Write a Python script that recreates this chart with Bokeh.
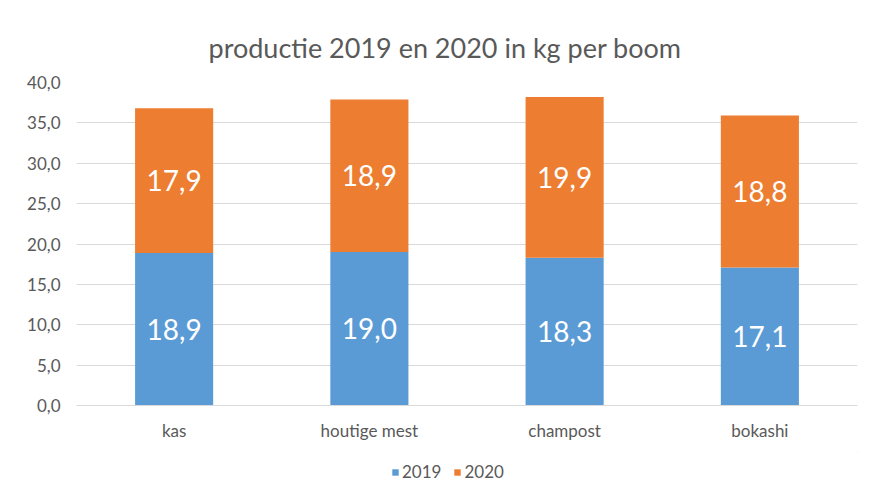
from bokeh.plotting import figure
from bokeh.layouts import column
from bokeh.models import ColumnDataSource, CustomJSTickFormatter, Legend, LegendItem, FixedTicker, LabelSet
from bokeh.core.properties import value
from bokeh.embed import file_html
from bokeh.resources import INLINE

categories = ["kas", "houtige mest", "champost", "bokashi"]
years = ["2019", "2020"]
v2019 = [18.9, 19.0, 18.3, 17.1]
v2020 = [17.9, 18.9, 19.9, 18.8]
colors = ["#5B9BD5", "#ED7D31"]
title_text = "productie 2019 en 2020 in kg per boom"

FONT = "Lato"
GRAY = "#595959"

fmt = lambda v: f"{v:.1f}".replace(".", ",")
src = ColumnDataSource(dict(
    cat=categories,
    y2019=v2019,
    y2020=v2020,
    mid2019=[v / 2 for v in v2019],
    mid2020=[a + b / 2 for a, b in zip(v2019, v2020)],
    lab2019=[fmt(v) for v in v2019],
    lab2020=[fmt(v) for v in v2020],
))

p = figure(x_range=categories, y_range=(0, 40), width=868, height=451,
           output_backend="svg", toolbar_location=None,
           min_border_left=76, min_border_right=11, min_border_top=82, min_border_bottom=46)

r = p.vbar_stack(["y2019", "y2020"], x="cat", width=0.4, color=colors, source=src, line_width=0)

for mid, lab in (("mid2019", "lab2019"), ("mid2020", "lab2020")):
    p.add_layout(LabelSet(x="cat", y=mid, text=lab, source=src, text_color="white",
                          text_font=value(FONT), text_font_size="28px", text_align="center",
                          text_baseline="middle"))

p.title.text = title_text
p.title.text_font = FONT
p.title.text_font_size = "27px"
p.title.text_font_style = "normal"
p.title.text_color = GRAY
p.title.align = "left"
p.title.offset = 132
p.title.standoff = 37

p.yaxis.ticker = FixedTicker(ticks=[0, 5, 10, 15, 20, 25, 30, 35, 40])
p.yaxis.formatter = CustomJSTickFormatter(code="return tick.toFixed(1).replace('.', ',');")
for ax in (p.xaxis, p.yaxis):
    ax.major_label_text_font = FONT
    ax.major_label_text_font_size = "17px"
    ax.major_label_text_color = GRAY
    ax.major_tick_line_color = None
    ax.minor_tick_line_color = None
p.yaxis.axis_line_color = None
p.yaxis.major_label_standoff = 10
p.xaxis.axis_line_color = "#d9d9d9"
p.xaxis.major_label_standoff = 8

p.xgrid.grid_line_color = None
p.ygrid.grid_line_color = "#d9d9d9"
p.outline_line_color = None
p.x_range.range_padding = 0
p.border_fill_color = "white"

# legend strip below the chart
pl = figure(width=868, height=44, x_range=(0, 1), y_range=(0, 1),
            output_backend="svg", toolbar_location=None,
            min_border_left=0, min_border_right=0, min_border_top=0, min_border_bottom=0)
pl.axis.visible = False
pl.grid.grid_line_color = None
pl.outline_line_color = None
leg_renderers = [pl.vbar(x=[5], top=[5], bottom=[4], width=0.1, color=c, line_width=0) for c in colors]
legend = Legend(items=[LegendItem(label=y, renderers=[rr]) for y, rr in zip(years, leg_renderers)],
                orientation="horizontal", location=(315, 13),
                label_text_font=FONT, label_text_font_size="17px", label_text_color=GRAY,
                glyph_width=8, glyph_height=8, spacing=12, label_standoff=3,
                border_line_color=None, background_fill_alpha=0, padding=0, margin=0)
pl.add_layout(legend)

layout = column(p, pl, spacing=0)
open("out.html", "w").write(file_html(layout, INLINE))
